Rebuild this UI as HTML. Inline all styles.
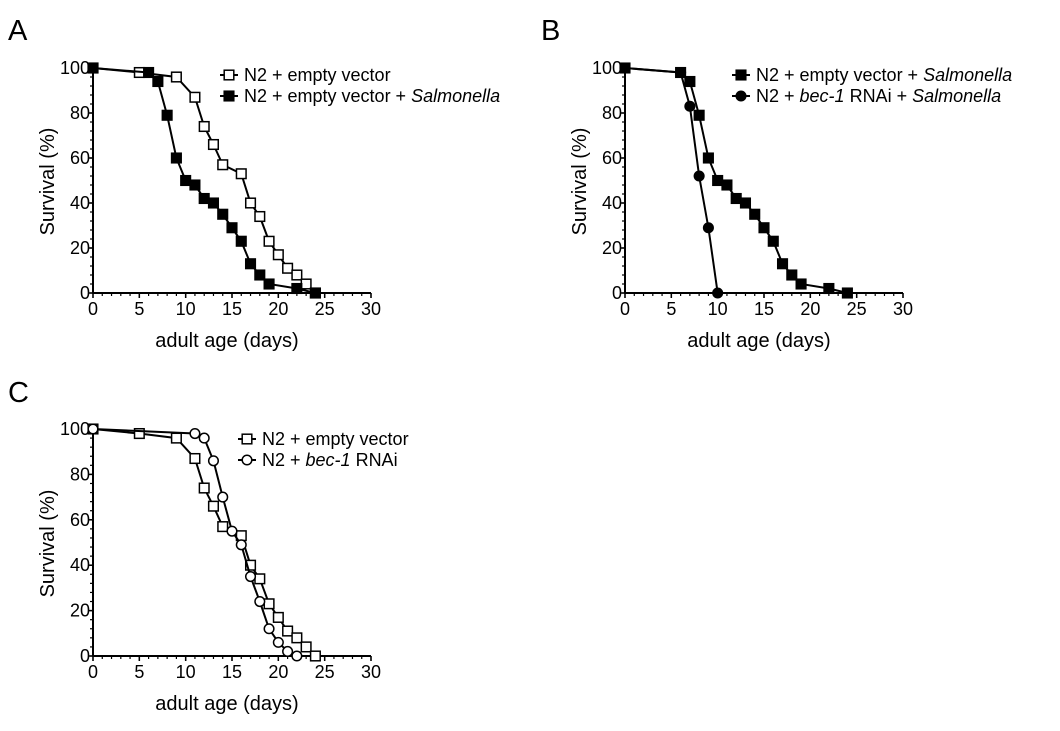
<!DOCTYPE html>
<html><head><meta charset="utf-8">
<style>
body{margin:0;background:#fff;}
svg text{font-family:"Liberation Sans",sans-serif;fill:#000;}
</style></head>
<body>
<svg id="fig" width="1060" height="726" xmlns="http://www.w3.org/2000/svg"></svg>
<script>
const xTicks=[0,5,10,15,20,25,30];
const yTicks=[0,20,40,60,80,100];
const evDays=[0,5,9,11,12,13,14,16,17,18,19,20,21,22,23,24];
const evSurv=[100,98,96,87,74,66,57,53,40,34,23,17,11,8,4,0];
const salDays=[0,6,7,8,9,10,11,12,13,14,15,16,17,18,19,22,24];
const salSurv=[100,98,94,79,60,50,48,42,40,35,29,23,13,8,4,2,0];
const becSalDays=[0,6,7,8,9,10];
const becSalSurv=[100,98,83,52,29,0];
const becDays=[0,11,12,13,14,15,16,17,18,19,20,21,22];
const becSurv=[100,98,96,86,70,55,49,35,24,12,6,2,0];

const NS="http://www.w3.org/2000/svg";
const svg=document.getElementById('fig');
function el(tag,attrs,parent){const e=document.createElementNS(NS,tag);for(const k in attrs)e.setAttribute(k,attrs[k]);(parent||svg).appendChild(e);return e;}

function panel(name,letter,lx,ly,x0,y0,y100,series,legend,legendX,legendY){
  const g=el('g',{});
  
  
  const xEnd=x0+278;
  const sx=d=>x0+d*(278/30);
  const sy=v=>y0-v*(y0-y100)/100;
  const lt=el('text',{x:lx,y:ly,'font-size':29},g);lt.textContent=letter;
  
  
  const ax=el('g',{},g);
  
  
  el('line',{x1:x0,y1:y0,x2:xEnd,y2:y0,stroke:'#000','stroke-width':2},ax);
  el('line',{x1:x0,y1:y0,x2:x0,y2:y100,stroke:'#000','stroke-width':2},ax);
  for(let d=0;d<=30;d++){const major=d%5===0;el('line',{x1:sx(d),y1:y0,x2:sx(d),y2:y0+(major?5:3),stroke:'#000','stroke-width':1.2},ax);}
  for(let v=0;v<=100;v+=4){el('line',{x1:x0,y1:sy(v),x2:x0-3,y2:sy(v),stroke:'#000','stroke-width':1.2},ax);}
  xTicks.forEach(t=>{el('line',{x1:sx(t),y1:y0,x2:sx(t),y2:y0+5,stroke:'#000','stroke-width':1.5},ax);
    const tx=el('text',{x:sx(t),y:y0+22,'font-size':18,'text-anchor':'middle'},ax);tx.textContent=t;
    
    });
  yTicks.forEach(t=>{el('line',{x1:x0,y1:sy(t),x2:x0-5,y2:sy(t),stroke:'#000','stroke-width':1.5},ax);
    const tx=el('text',{x:x0-3,y:sy(t)+6,'font-size':18,'text-anchor':'end'},ax);tx.textContent=t;
    
    });
  const xt=el('text',{x:x0+134,y:y0+54,'font-size':20,'text-anchor':'middle'},g);xt.textContent='adult age (days)';
  
  
  const yc=(y0+y100)/2+1;
  const yt=el('text',{x:x0-39,y:yc,'font-size':20,'text-anchor':'middle',transform:`rotate(-90 ${x0-39} ${yc})`},g);
  yt.textContent='Survival (%)';
  
  
  function marker(parent,x,y,shape){
    const fill=shape.filled?'#000':'#fff';
    if(shape.circle) return el('circle',{cx:x,cy:y,r:4.8,fill:fill,stroke:'#000','stroke-width':1.5},parent);
    return el('rect',{x:x-4.8,y:y-4.8,width:9.6,height:9.6,fill:fill,stroke:'#000','stroke-width':1.5},parent);
  }
  series.forEach(s=>{
    const sg=el('g',{},g);
    
    
    el('polyline',{points:s.days.map((d,i)=>sx(d)+','+sy(s.surv[i])).join(' '),fill:'none',stroke:'#000','stroke-width':2},sg);
    s.days.forEach((d,i)=>{const m=marker(sg,sx(d),sy(s.surv[i]),s);
      
      });
  });
  legend.forEach((L,i)=>{
    const lg=el('g',{},g);
    
    
    const yy=legendY+i*21;
    el('line',{x1:legendX,y1:yy,x2:legendX+18,y2:yy,stroke:'#000','stroke-width':2},lg);
    marker(lg,legendX+9,yy,L.s);
    const t=el('text',{x:legendX+24,y:yy+6,'font-size':18},lg);
    t.innerHTML=L.html;
  });
}
const sEV={name:'series-empty-vector',days:evDays,surv:evSurv,filled:false};
const sSal={name:'series-empty-vector-salmonella',days:salDays,surv:salSurv,filled:true};
const sBecSal={name:'series-bec1-salmonella',days:becSalDays,surv:becSalSurv,filled:true,circle:true};
const sBec={name:'series-bec1-rnai',days:becDays,surv:becSurv,filled:false,circle:true};
panel('panel-a','A',8,40,93,293,68,[sEV,sSal],
 [{s:sEV,html:'N2 + empty vector'},{s:sSal,html:'N2 + empty vector + <tspan font-style="italic">Salmonella</tspan>'}],220,75);
panel('panel-b','B',541,40,625,293,68,[sSal,sBecSal],
 [{s:sSal,html:'N2 + empty vector + <tspan font-style="italic">Salmonella</tspan>'},{s:sBecSal,html:'N2 + <tspan font-style="italic">bec-1</tspan> RNAi + <tspan font-style="italic">Salmonella</tspan>'}],732,75);
panel('panel-c','C',8,402,93,656,429,[sEV,sBec],
 [{s:sEV,html:'N2 + empty vector'},{s:sBec,html:'N2 + <tspan font-style="italic">bec-1</tspan> RNAi'}],238,439);
</script>
</body></html>
